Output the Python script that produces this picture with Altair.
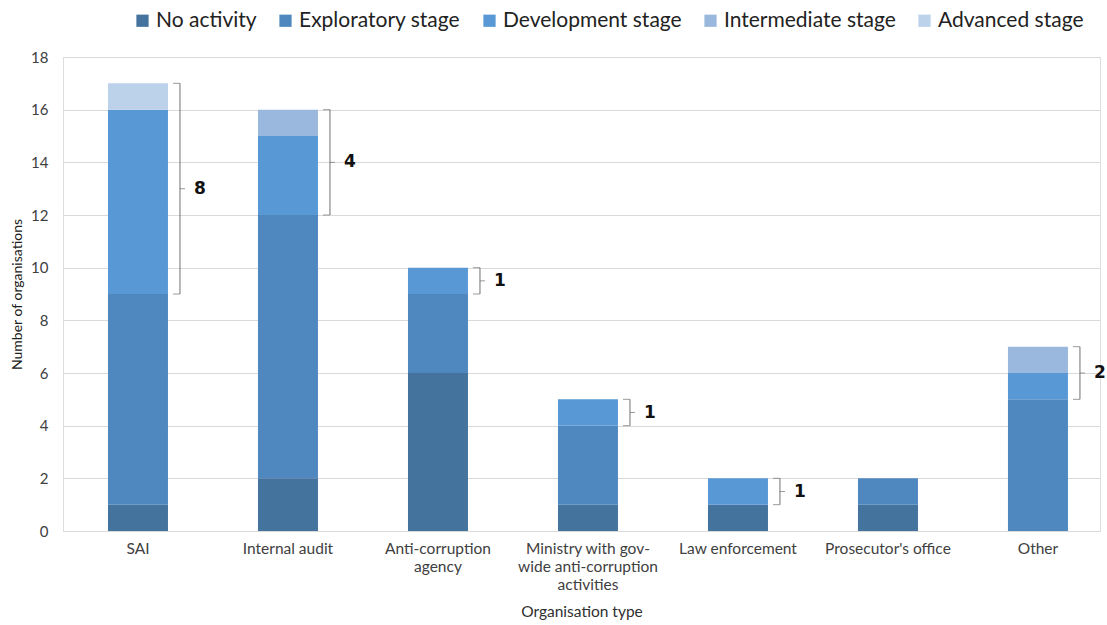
import altair as alt
import pandas as pd

categories = ["SAI", "Internal audit", "Anti-corruption agency",
              "Ministry with gov-wide anti-corruption activities",
              "Law enforcement", "Prosecutor's office", "Other"]
series = ["No activity", "Exploratory stage", "Development stage",
          "Intermediate stage", "Advanced stage"]
no_activity = [1, 2, 6, 1, 1, 1, 0]
exploratory = [8, 10, 3, 3, 0, 1, 5]
development = [7, 3, 1, 1, 1, 0, 1]
intermediate = [0, 1, 0, 0, 0, 0, 1]
advanced = [1, 0, 0, 0, 0, 0, 0]
colors = ["#44739d", "#4f88bf", "#5899d5", "#9ab8de", "#bcd1ea"]

bracket_cats = ["SAI", "Internal audit", "Anti-corruption agency",
                "Ministry with gov-wide anti-corruption activities",
                "Law enforcement", "Other"]
bracket_low = [9, 12, 9, 4, 1, 5]
bracket_high = [17, 16, 10, 5, 2, 7]
bracket_labels = ["8", "4", "1", "1", "1", "2"]

label_lines = {
    "Anti-corruption agency": ["Anti-corruption", "agency"],
    "Ministry with gov-wide anti-corruption activities": ["Ministry with gov-", "wide anti-corruption", "activities"],
}

values = [no_activity, exploratory, development, intermediate, advanced]
rows = []
for i, c in enumerate(categories):
    for s, name in enumerate(series):
        v = values[s][i]
        if v > 0:
            rows.append({"category": c, "stage": name, "value": v, "order": s})
df = pd.DataFrame(rows)

bdf = pd.DataFrame({"category": bracket_cats, "low": bracket_low,
                    "high": bracket_high, "label": bracket_labels})

expr = "datum.label"
for k, v in label_lines.items():
    arr = "[" + ",".join("'" + s + "'" for s in v) + "]"
    expr = f"datum.label == '{k}' ? {arr} : ({expr})"

font = "Lato"

xenc = alt.X("category:N", sort=categories, title="Organisation type",
             scale=alt.Scale(paddingInner=0.6, paddingOuter=0.2567, align=0.584),
             axis=alt.Axis(labelAngle=0, labelExpr=expr, labelFontSize=15.5,
                           labelColor="#404040", labelPadding=10, ticks=False,
                           domainColor="#d9d9d9", titleFontSize=15.5,
                           titleColor="#303030", titleFontWeight="normal",
                           titlePadding=12, labelLineHeight=18, labelFont=font,
                           titleFont=font))

bars = alt.Chart(df).mark_bar().encode(
    x=xenc,
    y=alt.Y("value:Q", stack="zero", title="Number of organisations",
            scale=alt.Scale(domain=[0, 18], nice=False),
            axis=alt.Axis(values=list(range(0, 19, 2)), labelFontSize=15,
                          labelColor="#404040", ticks=False, domain=False,
                          gridColor="#d9d9d9", labelPadding=15,
                          titleFontSize=14, titleColor="#202020",
                          titleFontWeight="normal", titlePadding=6,
                          labelFont=font, titleFont=font)),
    color=alt.Color("stage:N", sort=series,
                    scale=alt.Scale(domain=series, range=colors),
                    legend=alt.Legend(title=None, orient="none", direction="horizontal",
                                      legendX=69, legendY=-47, symbolType="square",
                                      symbolSize=150, labelFontSize=21,
                                      labelColor="#222222", labelFont=font,
                                      columnPadding=18, labelOffset=3,
                                      labelLimit=0, symbolStrokeWidth=0)),
    order=alt.Order("order:Q", sort="ascending"),
)

bcol = "#707070"
vrule = alt.Chart(bdf).mark_rule(xOffset=42, color=bcol, strokeWidth=1).encode(
    x=alt.X("category:N", sort=categories), y="low:Q", y2="high:Q")

ends = alt.Chart(bdf).transform_fold(["low", "high"], as_=["end", "yv"]).mark_tick(
    xOffset=38.5, size=7, thickness=1, color=bcol, orient="horizontal").encode(
    x=alt.X("category:N", sort=categories), y="yv:Q")

mid = alt.Chart(bdf).transform_calculate(mid="(datum.low + datum.high) / 2").mark_tick(
    xOffset=44.5, size=5, thickness=1, color=bcol, orient="horizontal").encode(
    x=alt.X("category:N", sort=categories), y="mid:Q")

txt = alt.Chart(bdf).transform_calculate(mid="(datum.low + datum.high) / 2").mark_text(
    align="left", baseline="middle", dx=56, fontSize=17, fontWeight="bold",
    font="DejaVu Sans", color="#111111").encode(
    x=alt.X("category:N", sort=categories), y="mid:Q", text="label:N")

chart = alt.layer(bars, vrule, ends, mid, txt).properties(
    width=1037, height=474,
    autosize=alt.AutoSizeParams(type="none"),
    padding={"left": 63, "top": 57, "right": 7, "bottom": 94},
).configure_view(stroke=None).configure(background="white")

chart.save("out.html", embed_options={"renderer": "svg", "actions": False})
